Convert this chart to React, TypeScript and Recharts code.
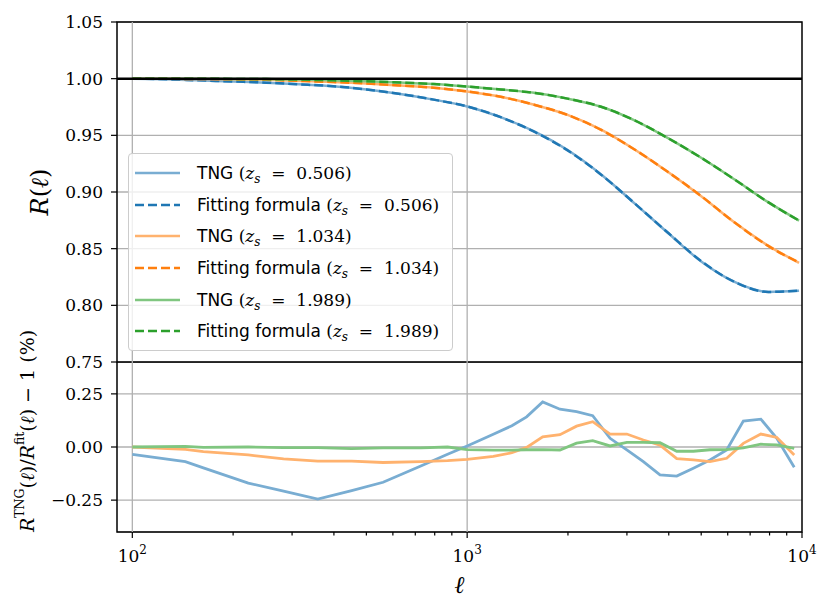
import React from 'react';
import {
  LineChart,
  Line,
  XAxis,
  YAxis,
  CartesianGrid,
  ReferenceLine,
  ReferenceArea,
} from 'recharts';

// top panel: R(ell) for three source redshifts
const ellTop = [100, 126, 158, 200, 251, 316, 398, 501, 631, 794, 1000, 1259, 1585, 1995, 2512, 3162, 3981, 5012, 6310, 7943, 9800];
const tng506 = [1.0, 0.9995, 0.9985, 0.9975, 0.9965, 0.995, 0.9933, 0.9905, 0.9865, 0.9815, 0.9755, 0.966, 0.9535, 0.937, 0.9155, 0.89, 0.8638, 0.8385, 0.8205, 0.8118, 0.8128];
const fit506 = [1.0, 0.9995, 0.9985, 0.9975, 0.9965, 0.995, 0.9933, 0.9905, 0.9865, 0.9815, 0.9755, 0.966, 0.9532, 0.9367, 0.9153, 0.89, 0.864, 0.8388, 0.8205, 0.8118, 0.813];
const tng1034 = [1.0, 0.9999, 0.9997, 0.9994, 0.999, 0.998, 0.997, 0.9958, 0.994, 0.992, 0.9887, 0.984, 0.977, 0.968, 0.955, 0.9375, 0.9176, 0.896, 0.8728, 0.8525, 0.8375];
const fit1034 = [1.0, 0.9999, 0.9997, 0.9994, 0.999, 0.998, 0.997, 0.9958, 0.994, 0.992, 0.9887, 0.984, 0.977, 0.968, 0.9548, 0.9375, 0.9176, 0.8962, 0.8728, 0.8522, 0.8378];
const tng1989 = [1.0, 1.0, 0.9999, 0.9998, 0.9996, 0.9992, 0.9985, 0.9977, 0.9966, 0.9952, 0.993, 0.9905, 0.9875, 0.9824, 0.9752, 0.9632, 0.9475, 0.93, 0.9108, 0.8908, 0.8748];
const fit1989 = [1.0, 1.0, 0.9999, 0.9998, 0.9996, 0.9992, 0.9985, 0.9977, 0.9966, 0.9952, 0.993, 0.9905, 0.9875, 0.9824, 0.9752, 0.9632, 0.9475, 0.93, 0.9108, 0.8908, 0.8748];

// bottom panel: residuals in percent
const ellRes = [100, 144, 163, 222, 283, 358, 452, 561, 727, 874, 1000, 1197, 1360, 1505, 1681, 1893, 2122, 2371, 2672, 2998, 3359, 3766, 4226, 4738, 5310, 5957, 6680, 7535, 8410, 9480];
const res506 = [-0.035, -0.069, -0.098, -0.17, -0.208, -0.245, -0.205, -0.166, -0.089, -0.034, 0.005, 0.06, 0.1, 0.142, 0.212, 0.178, 0.166, 0.147, 0.041, -0.014, -0.069, -0.131, -0.137, -0.1, -0.061, -0.014, 0.122, 0.131, 0.041, -0.095];
const res1034 = [0.0, -0.011, -0.022, -0.0375, -0.056, -0.066, -0.066, -0.073, -0.069, -0.064, -0.058, -0.044, -0.027, -0.002, 0.048, 0.058, 0.098, 0.119, 0.061, 0.061, 0.033, 0.009, -0.055, -0.061, -0.069, -0.053, 0.017, 0.061, 0.045, -0.038];
const res1989 = [0.0, 0.003, -0.002, 0.0, -0.003, -0.003, -0.008, -0.004, -0.004, 0.0, -0.012, -0.015, -0.015, -0.013, -0.012, -0.014, 0.018, 0.03, 0.005, 0.022, 0.022, 0.02, -0.02, -0.02, -0.013, -0.012, -0.004, 0.013, 0.01, -0.006];

const xTicks = [100, 200, 300, 400, 500, 600, 700, 800, 900, 1000, 2000, 3000, 4000, 5000, 6000, 7000, 8000, 9000, 10000];
const topYTicks = [0.75, 0.8, 0.85, 0.9, 0.95, 1.0, 1.05];
const resYTicks = [-0.25, 0, 0.25];
const redshifts = ['0.506', '1.034', '1.989'];

const topData = ellTop.map((l, i) => ({
  l,
  tng1: tng506[i],
  fit1: fit506[i],
  tng2: tng1034[i],
  fit2: fit1034[i],
  tng3: tng1989[i],
  fit3: fit1989[i],
}));
const resData = ellRes.map((l, i) => ({ l, r1: res506[i], r2: res1034[i], r3: res1989[i] }));

const SERIF = '"DejaVu Serif", serif';
const SANS = '"DejaVu Sans", sans-serif';
const DARK = ['#1f77b4', '#ff7f0e', '#2ca02c'];
const LIGHT = ['#79add2', '#ffb26e', '#80c680'];
const GRID = '#b0b0b0';
const DASH = '9 4';

const fmt = (v: number) => (v < 0 ? '\u2212' : '') + Math.abs(v).toFixed(2);

function XTick(props: any) {
  const { x, y, payload } = props;
  const v = payload.value as number;
  const e = Math.round(Math.log10(v));
  const major = Math.abs(Math.log10(v) - e) < 1e-6;
  return (
    <g>
      <line x1={x} x2={x} y1={y} y2={y + (major ? 6 : 3.5)} stroke="#000" strokeWidth={1.2} />
      {major && (
        <text x={x} y={y + 30} textAnchor="middle" fontFamily={SERIF} fontSize={17} fill="#000">
          10<tspan dy={-8} fontSize={12}>{e}</tspan>
        </text>
      )}
    </g>
  );
}

function TopYLabel() {
  return (
    <text transform="translate(40,192) rotate(-90)" textAnchor="middle" dominantBaseline="central" fontFamily={SERIF} fontSize={24} fill="#000">
      <tspan fontStyle="italic">R</tspan>(<tspan fontStyle="italic">ℓ</tspan>)
    </text>
  );
}

function XLabel({ viewBox }: any) {
  const cx = viewBox ? viewBox.x + viewBox.width / 2 : 460;
  const top = viewBox ? viewBox.y : 170;
  return (
    <text x={cx} y={top + 61} textAnchor="middle" fontFamily={SERIF} fontStyle="italic" fontSize={24} fill="#000">
      ℓ
    </text>
  );
}

// ylabel of the residual panel, drawn over both charts so it is not clipped
function ResYLabel() {
  return (
    <svg width={831} height={613} style={{ position: 'absolute', left: 0, top: 0, pointerEvents: 'none' }}>
      <text transform="translate(27,431) rotate(-90)" textAnchor="middle" dominantBaseline="central" fontFamily={SERIF} fontSize={19} fill="#000">
        <tspan fontStyle="italic">R</tspan>
        <tspan dy={-8} fontSize={12.5}>TNG</tspan>
        <tspan dy={8}>(</tspan>
        <tspan fontStyle="italic">ℓ</tspan>)/<tspan fontStyle="italic">R</tspan>
        <tspan dy={-8} fontSize={12.5}>fit</tspan>
        <tspan dy={8}>(</tspan>
        <tspan fontStyle="italic">ℓ</tspan>) {'\u2212'} 1 (%)
      </text>
    </svg>
  );
}

function LegendBox() {
  const rows: { label: string; z: string; color: string; dash: boolean }[] = [];
  redshifts.forEach((z, i) => {
    rows.push({ label: 'TNG', z, color: LIGHT[i], dash: false });
    rows.push({ label: 'Fitting formula', z, color: DARK[i], dash: true });
  });
  return (
    <div
      style={{
        position: 'absolute',
        left: 128,
        top: 153,
        width: 325,
        height: 198,
        boxSizing: 'border-box',
        border: '1px solid #cccccc',
        borderRadius: 4,
        background: 'rgba(255,255,255,0.8)',
        paddingTop: 3,
      }}
    >
      {rows.map((r, i) => (
        <div key={i} style={{ display: 'flex', alignItems: 'center', height: 31.7 }}>
          <svg width={45} height={10} style={{ marginLeft: 6, marginRight: 17 }}>
            <line x1={0} x2={45} y1={5} y2={5} stroke={r.color} strokeWidth={2.5} strokeDasharray={r.dash ? DASH : undefined} />
          </svg>
          <span style={{ fontFamily: SANS, fontSize: 17, color: '#000', whiteSpace: 'pre' }}>{r.label} </span>
          <span style={{ fontFamily: SERIF, fontSize: 17, color: '#000', whiteSpace: 'pre' }}>
            (<i>z</i>
            <span style={{ fontSize: 12, fontStyle: 'italic', position: 'relative', top: 4 }}>s</span>
            {'  =  '}
            {r.z})
          </span>
        </div>
      ))}
    </div>
  );
}

export default function App() {
  return (
    <div style={{ position: 'absolute', left: 0, top: 0, width: 831, height: 613, background: '#fff' }}>
      <div style={{ position: 'absolute', left: 0, top: 0 }}>
        <LineChart width={831} height={374} data={topData} margin={{ top: 22, right: 29, bottom: 12, left: 0 }}>
          <CartesianGrid horizontal vertical={false} stroke={GRID} strokeWidth={1.3} />
          <XAxis dataKey="l" type="number" scale="log" domain={[90, 10000]} allowDataOverflow hide height={0} />
          <YAxis
            type="number"
            domain={[0.75, 1.05]}
            ticks={topYTicks}
            allowDataOverflow
            width={117}
            axisLine={false}
            tickSize={6}
            tickMargin={8}
            tickLine={{ stroke: '#000', strokeWidth: 1.2 }}
            tickFormatter={fmt}
            tick={{ fontFamily: SERIF, fontSize: 17, fill: '#000' }}
            label={<TopYLabel />}
          />
          <ReferenceLine x={100} stroke={GRID} strokeWidth={1.3} />
          <ReferenceLine x={1000} stroke={GRID} strokeWidth={1.3} />
          <Line type="monotone" dataKey="tng1" stroke={LIGHT[0]} strokeWidth={2.5} dot={false} isAnimationActive={false} />
          <Line type="monotone" dataKey="fit1" stroke={DARK[0]} strokeWidth={2.5} strokeDasharray={DASH} dot={false} isAnimationActive={false} />
          <Line type="monotone" dataKey="tng2" stroke={LIGHT[1]} strokeWidth={2.5} dot={false} isAnimationActive={false} />
          <Line type="monotone" dataKey="fit2" stroke={DARK[1]} strokeWidth={2.5} strokeDasharray={DASH} dot={false} isAnimationActive={false} />
          <Line type="monotone" dataKey="tng3" stroke={LIGHT[2]} strokeWidth={2.5} dot={false} isAnimationActive={false} />
          <Line type="monotone" dataKey="fit3" stroke={DARK[2]} strokeWidth={2.5} strokeDasharray={DASH} dot={false} isAnimationActive={false} />
          <ReferenceLine y={1} stroke="#000" strokeWidth={2.5} />
          <ReferenceArea x1={90} x2={10000} y1={0.75} y2={1.05} fill="none" stroke="#000" strokeWidth={1.5} ifOverflow="visible" />
        </LineChart>
        <LegendBox />
      </div>
      <div style={{ position: 'absolute', left: 0, top: 362 }}>
        <LineChart width={831} height={251} data={resData} margin={{ top: 0, right: 29, bottom: 0, left: 0 }}>
          <CartesianGrid horizontal vertical={false} stroke={GRID} strokeWidth={1.3} />
          <XAxis
            dataKey="l"
            type="number"
            scale="log"
            domain={[90, 10000]}
            allowDataOverflow
            ticks={xTicks}
            interval={0}
            height={81}
            axisLine={false}
            tickLine={false}
            tickSize={0}
            tickMargin={0}
            tick={<XTick />}
            label={<XLabel />}
          />
          <YAxis
            type="number"
            domain={[-0.4, 0.4]}
            ticks={resYTicks}
            allowDataOverflow
            width={117}
            axisLine={false}
            tickSize={6}
            tickMargin={8}
            tickLine={{ stroke: '#000', strokeWidth: 1.2 }}
            tickFormatter={fmt}
            tick={{ fontFamily: SERIF, fontSize: 17, fill: '#000' }}
          />
          <ReferenceLine x={100} stroke={GRID} strokeWidth={1.3} />
          <ReferenceLine x={1000} stroke={GRID} strokeWidth={1.3} />
          <Line type="linear" dataKey="r1" stroke={LIGHT[0]} strokeWidth={2.8} dot={false} isAnimationActive={false} />
          <Line type="linear" dataKey="r2" stroke={LIGHT[1]} strokeWidth={2.8} dot={false} isAnimationActive={false} />
          <Line type="linear" dataKey="r3" stroke={LIGHT[2]} strokeWidth={2.8} dot={false} isAnimationActive={false} />
          <ReferenceArea x1={90} x2={10000} y1={-0.4} y2={0.4} fill="none" stroke="#000" strokeWidth={1.5} ifOverflow="visible" />
        </LineChart>
      </div>
      <ResYLabel />
    </div>
  );
}
